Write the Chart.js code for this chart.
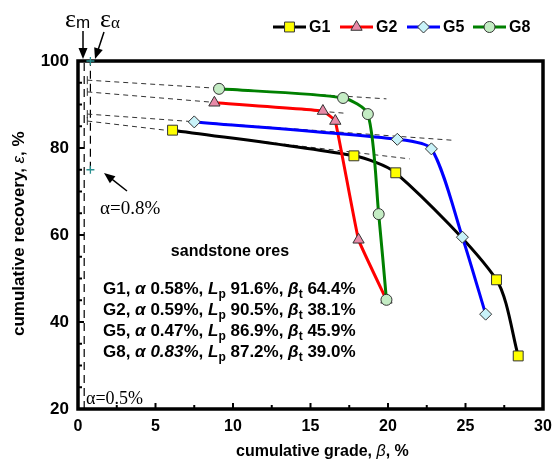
<!DOCTYPE html>
<html>
<head>
<meta charset="utf-8">
<script src="https://cdn.jsdelivr.net/npm/chart.js@4/dist/chart.umd.min.js"></script>
<style>
  html, body { margin: 0; padding: 0; background: #fff; }
  #wrap { width: 554px; height: 469px; }
</style>
</head>
<body>
<div id="wrap"><canvas id="chart"></canvas></div>
<script>
// Values (grade %, recovery %)
const seriesNames = ['G1', 'G2', 'G5', 'G8'];
const g1Grade = [6.1, 17.8, 20.5, 27.0, 28.4];
const g1Recovery = [84.1, 78.2, 74.3, 49.7, 32.2];
const g2Grade = [8.8, 15.8, 16.6, 18.1, 19.9];
const g2Recovery = [90.4, 88.5, 86.2, 58.9, 45.1];
const g5Grade = [7.5, 20.6, 22.8, 24.8, 26.3];
const g5Recovery = [86.0, 82.0, 79.8, 59.5, 41.8];
const g8Grade = [9.1, 17.1, 18.7, 19.4, 19.9];
const g8Recovery = [93.6, 91.5, 87.8, 64.8, 45.1];

// dashed tangent lines, [start, end] for G1, G2, G5, G8
const tangentGrade = [[0.6, 21.4], [0.6, 17.2], [0.6, 24.1], [0.6, 19.9]];
const tangentRecovery = [[86.2, 77.5], [92.9, 88.0], [87.8, 81.8], [95.6, 91.3]];

// vertical alpha lines
const alphaGrade = [0.4, 0.8];
const alphaRecoveryLow = [20, 75];

// axis ticks
const gradeTicks = [0, 5, 10, 15, 20, 25, 30];
const recoveryTicks = [20, 40, 60, 80, 100];

// summary lines in the plot
const infoRows = [
  ['G1', '0.58%', '91.6%', '64.4%'],
  ['G2', '0.59%', '90.5%', '38.1%'],
  ['G5', '0.47%', '86.9%', '45.9%'],
  ['G8', '0.83%', '87.2%', '39.0%']
];

const SANS = '"Liberation Sans", Arial, sans-serif';
const SERIF = '"Liberation Serif", "Times New Roman", serif';

const toPoints = (xs, ys) => xs.map((x, i) => ({ x: x, y: ys[i] }));

const seriesStyle = [
  { color: '#000000', shape: 'rect', fill: '#ffff00', radius: 7, order: 3, tension: 0.25 },
  { color: '#ff0000', shape: 'triangle', fill: '#e88aa8', radius: 6.5, order: 2, tension: 0.08 },
  { color: '#0000ff', shape: 'rectRot', fill: '#c8f2f8', radius: 6, order: 1, tension: 0.25 },
  { color: '#008000', shape: 'circle', fill: '#c4ecc4', radius: 5.5, order: 0, tension: 0.25 }
];
const grades = [g1Grade, g2Grade, g5Grade, g8Grade];
const recoveries = [g1Recovery, g2Recovery, g5Recovery, g8Recovery];

const datasets = seriesNames.map((name, i) => ({
  label: name,
  data: toPoints(grades[i], recoveries[i]),
  borderColor: seriesStyle[i].color,
  borderWidth: 3,
  pointStyle: seriesStyle[i].shape,
  pointRadius: seriesStyle[i].radius,
  pointBackgroundColor: seriesStyle[i].fill,
  pointBorderColor: '#333',
  pointBorderWidth: 1,
  tension: seriesStyle[i].tension,
  showLine: true,
  fill: false,
  order: seriesStyle[i].order
}));

tangentGrade.forEach((xs, i) => {
  datasets.push({
    label: 'tangent',
    data: toPoints(xs, tangentRecovery[i]),
    borderColor: '#333',
    borderWidth: 1,
    borderDash: [5, 4],
    pointRadius: 0,
    showLine: true,
    fill: false,
    order: 10
  });
});

alphaGrade.forEach((x, i) => {
  datasets.push({
    label: 'alpha',
    data: toPoints([x, x], [alphaRecoveryLow[i], 100]),
    borderColor: '#000',
    borderWidth: 1.2,
    borderDash: [8, 5],
    pointRadius: 0,
    showLine: true,
    fill: false,
    order: 10
  });
});

// draws a run of text pieces: [text, font, yOffset]
const drawRich = (ctx, x, y, pieces) => {
  pieces.forEach(([t, font, dy]) => {
    ctx.font = font;
    ctx.fillText(t, x, y + (dy || 0));
    x += ctx.measureText(t).width;
  });
};

const drawArrow = (ctx, x1, y1, x2, y2) => {
  const ang = Math.atan2(y2 - y1, x2 - x1);
  const len = 11, wid = 4.5;
  ctx.beginPath();
  ctx.moveTo(x1, y1);
  ctx.lineTo(x2 - Math.cos(ang) * len * 0.8, y2 - Math.sin(ang) * len * 0.8);
  ctx.lineWidth = 1.5;
  ctx.strokeStyle = '#000';
  ctx.stroke();
  ctx.beginPath();
  ctx.moveTo(x2, y2);
  ctx.lineTo(x2 - Math.cos(ang) * len + Math.sin(ang) * wid, y2 - Math.sin(ang) * len - Math.cos(ang) * wid);
  ctx.lineTo(x2 - Math.cos(ang) * len - Math.sin(ang) * wid, y2 - Math.sin(ang) * len + Math.cos(ang) * wid);
  ctx.closePath();
  ctx.fillStyle = '#000';
  ctx.fill();
};

const decorPlugin = {
  id: 'decor',
  afterDraw(chart) {
    const ctx = chart.ctx;
    const area = chart.chartArea;
    const xs = chart.scales.x, ys = chart.scales.y;
    ctx.save();

    // inward ticks
    ctx.strokeStyle = '#000';
    ctx.lineWidth = 2;
    for (let v = 0; v <= 30; v += 2.5) {
      const px = xs.getPixelForValue(v);
      const len = v % 5 === 0 ? 6 : 4;
      ctx.beginPath();
      ctx.moveTo(px, area.bottom);
      ctx.lineTo(px, area.bottom - len);
      ctx.stroke();
    }
    for (let v = 20; v <= 100; v += 5) {
      const py = ys.getPixelForValue(v);
      const len = v % 20 === 0 ? 6 : 4;
      ctx.beginPath();
      ctx.moveTo(area.left, py);
      ctx.lineTo(area.left + len, py);
      ctx.stroke();
    }

    // small caps where the tangent lines start
    ctx.strokeStyle = '#333';
    ctx.lineWidth = 1;
    tangentGrade.forEach((xsT, i) => {
      const px = xs.getPixelForValue(xsT[0]);
      const py = ys.getPixelForValue(tangentRecovery[i][0]);
      ctx.beginPath();
      ctx.moveTo(px, py - 4); ctx.lineTo(px, py + 4);
      ctx.stroke();
    });

    // plot frame
    ctx.strokeStyle = '#000';
    ctx.lineWidth = 3.5;
    ctx.strokeRect(area.left, area.top, area.right - area.left, area.bottom - area.top);

    // teal crosses on the alpha=0.8% line
    const cx = xs.getPixelForValue(alphaGrade[1]);
    ctx.strokeStyle = '#2a9090';
    ctx.lineWidth = 1.3;
    [100, alphaRecoveryLow[1]].forEach(v => {
      const cy = ys.getPixelForValue(v);
      ctx.beginPath();
      ctx.moveTo(cx - 4, cy); ctx.lineTo(cx + 4, cy);
      ctx.moveTo(cx, cy - 4); ctx.lineTo(cx, cy + 4);
      ctx.stroke();
    });

    // epsilon labels and arrows
    ctx.fillStyle = '#000';
    ctx.textBaseline = 'alphabetic';
    ctx.textAlign = 'left';
    drawRich(ctx, 65, 27, [['ε', '26px ' + SERIF], ['m', '17px ' + SANS, 1]]);
    drawRich(ctx, 100, 27, [['ε', '26px ' + SERIF], ['α', '17px ' + SERIF, 1]]);
    drawArrow(ctx, 83, 31, 83, 59);
    drawArrow(ctx, 104, 32, 95, 59);

    // alpha labels
    ctx.fillStyle = '#000';
    ctx.font = '19px ' + SERIF;
    ctx.fillText('α=0.8%', 100, 214);
    drawArrow(ctx, 127, 191, 104, 173);
    ctx.fillStyle = '#000';
    ctx.font = '18px ' + SERIF;
    ctx.fillText('α=0.5%', 86, 404);

    // summary text
    const B = 'bold 17px ' + SANS;
    const BI = 'italic bold 17px ' + SANS;
    const SUB = 'bold 12px ' + SANS;
    ctx.textAlign = 'center';
    ctx.font = 'bold 16px ' + SANS;
    ctx.fillText('sandstone ores', 230, 256);
    ctx.textAlign = 'left';
    infoRows.forEach((r, i) => {
      const y = 294 + i * 21;
      drawRich(ctx, 103, y, [
        [r[0] + ', ', B], ['α', BI], [' ', B],
        [r[1], i === 3 ? BI : B], [', ', B],
        ['L', BI], ['p', SUB, 4], [' ' + r[2] + ', ', B],
        ['β', BI], ['t', SUB, 4], [' ' + r[3], B]
      ]);
    });

    // axis titles
    drawRich(ctx, 236, 456, [['cumulative grade, ', 'bold 16px ' + SANS], ['β', 'italic 16px ' + SANS], [', %', 'bold 16px ' + SANS]]);
    ctx.save();
    ctx.translate(24, 336);
    ctx.rotate(-Math.PI / 2);
    drawRich(ctx, 0, 0, [['cumulative recovery, ', 'bold 17px ' + SANS], ['ε', 'italic 17px ' + SANS], [', %', 'bold 17px ' + SANS]]);
    ctx.restore();

    // legend
    const legendX = [273, 340, 407, 473];
    seriesNames.forEach((name, i) => {
      const st = seriesStyle[i];
      const x0 = legendX[i], ly = 27;
      ctx.strokeStyle = st.color;
      ctx.lineWidth = 3;
      ctx.beginPath();
      ctx.moveTo(x0, ly); ctx.lineTo(x0 + 33, ly);
      ctx.stroke();
      ctx.fillStyle = st.fill;
      ctx.strokeStyle = '#333';
      ctx.lineWidth = 1;
      Chart.helpers.drawPoint(ctx, { pointStyle: st.shape, radius: st.radius, borderWidth: 1 }, x0 + 16.5, ly);
      ctx.fillStyle = '#000';
      ctx.font = 'bold 16px ' + SANS;
      ctx.textBaseline = 'middle';
      ctx.fillText(name, x0 + 36, ly + 1);
      ctx.textBaseline = 'alphabetic';
    });

    ctx.restore();
  }
};

new Chart(document.getElementById('chart'), {
  type: 'scatter',
  data: { datasets: datasets },
  options: {
    responsive: true,
    maintainAspectRatio: false,
    animation: false,
    layout: { padding: { top: 61, right: 11, left: 0, bottom: 0 } },
    plugins: {
      legend: { display: false },
      tooltip: { enabled: false }
    },
    scales: {
      x: {
        type: 'linear',
        min: 0,
        max: 30,
        afterBuildTicks: s => { s.ticks = gradeTicks.map(v => ({ value: v })); },
        afterFit: s => { s.height = 60; s.paddingLeft = 0; s.paddingRight = 0; },
        grid: { display: false, drawTicks: false },
        border: { display: false },
        ticks: { color: '#000', font: { family: SANS, size: 16, weight: 'bold' }, padding: 8, maxRotation: 0 }
      },
      y: {
        type: 'linear',
        min: 20,
        max: 100,
        afterBuildTicks: s => { s.ticks = recoveryTicks.map(v => ({ value: v })); },
        afterFit: s => { s.width = 78; s.paddingTop = 0; s.paddingBottom = 0; },
        grid: { display: false, drawTicks: false },
        border: { display: false },
        ticks: { color: '#000', font: { family: SANS, size: 17, weight: 'bold' }, padding: 9 }
      }
    }
  },
  plugins: [decorPlugin]
});
</script>
</body>
</html>
